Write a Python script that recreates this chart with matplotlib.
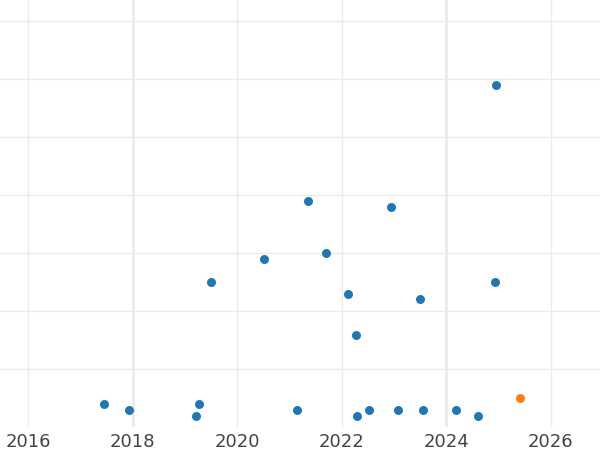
import matplotlib
matplotlib.use("Agg")
import matplotlib.pyplot as plt
import numpy as np

# decimal-year positions and values
years_blue = [2017.45, 2017.93, 2019.21, 2019.27, 2019.50, 2020.51, 2021.14, 2021.35,
              2021.70, 2022.12, 2022.27, 2022.29, 2022.52, 2022.94, 2023.07, 2023.50,
              2023.55, 2024.18, 2024.60, 2024.93, 2024.95]
values_blue = [0.40, 0.29, 0.19, 0.40, 2.50, 2.90, 0.29, 3.90,
               3.00, 2.29, 1.59, 0.19, 0.29, 3.79, 0.29, 2.21,
               0.29, 0.29, 0.19, 2.50, 5.90]
years_orange = [2025.41]
values_orange = [0.50]
xticks = [2016, 2018, 2020, 2022, 2024, 2026]
yticks = [1, 2, 3, 4, 5, 6, 7]
bold_lines = [2018, 2024]

fig = plt.figure(figsize=(6, 4.5), dpi=100)
ax = fig.add_axes([0, 23/450, 1, 427/450])
ax.set_xlim(2015.465, 2026.94)
ax.set_ylim(0, 7.36)
ax.set_xticks(xticks)
ax.set_xticklabels([str(t) for t in xticks], fontsize=13, color="#444444")
ax.set_yticks(yticks)
ax.set_yticklabels([])
ax.tick_params(length=0, pad=4)
for s in ax.spines.values():
    s.set_visible(False)
ax.grid(True, color="#ebebeb", linewidth=1)
for b in bold_lines:
    ax.axvline(b, color="#ebebeb", linewidth=2, zorder=0)
ax.set_axisbelow(True)
ax.scatter(years_blue, values_blue, s=42, color="#1f77b4", zorder=3, linewidths=0)
ax.scatter(years_orange, values_orange, s=42, color="#ff7f0e", zorder=3, linewidths=0)
fig.savefig("out.png", dpi=100)
